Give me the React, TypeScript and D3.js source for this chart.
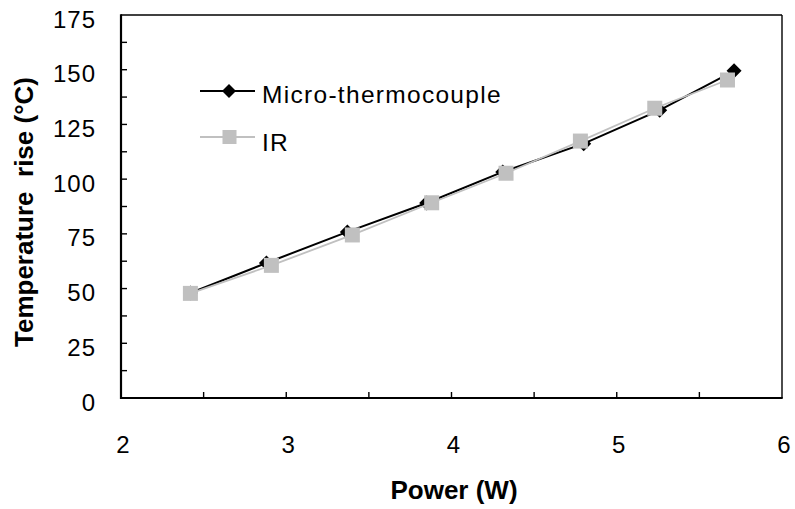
import React from "react";
import * as d3 from "d3";

const powerMicro = [2.42, 2.88, 3.37, 3.85, 4.31, 4.8, 5.26, 5.71];
const tempMicro = [48, 61.7, 75.9, 89.1, 103.3, 116.2, 131.5, 149.5];
const powerIR = [2.42, 2.91, 3.4, 3.88, 4.33, 4.78, 5.23, 5.67];
const tempIR = [47.8, 60.6, 74.5, 89.2, 102.7, 117.4, 132.4, 145.3];

const xTickLabels = [2, 3, 4, 5, 6];
const yTickLabels = [0, 25, 50, 75, 100, 125, 150, 175];
const xMinorTicks = [2.5, 3, 3.5, 4, 4.5, 5, 5.5];
const yMinorTicks = [12.5, 25, 37.5, 50, 62.5, 75, 87.5, 100, 112.5, 125, 137.5, 150, 162.5];

const seriesNames = ["Micro-thermocouple", "IR"];
const xTitle = "Power (W)";
const yTitle = "Temperature  rise (°C)";

const W = 795;
const H = 509;
const L = 121, R = 782, T = 15, B = 398;
const FONT = "'Liberation Sans', Arial, sans-serif";
const GRAY = "#c0c0c0";

export default function App() {
  const x = d3.scaleLinear().domain([2, 6]).range([L, R]);
  const y = d3.scaleLinear().domain([0, 175]).range([B, T]);
  const micro = powerMicro.map((p, i) => [p, tempMicro[i]] as [number, number]);
  const ir = powerIR.map((p, i) => [p, tempIR[i]] as [number, number]);
  const line = d3.line<[number, number]>().x((d) => x(d[0])).y((d) => y(d[1]));
  const diamond = (cx: number, cy: number, r: number) =>
    `M${cx},${cy - r}L${cx + r},${cy}L${cx},${cy + r}L${cx - r},${cy}Z`;

  return (
    <svg width={W} height={H} style={{ position: "absolute", left: 0, top: 0, background: "#fff" }}>
      <rect x={0} y={0} width={W} height={H} fill="#fff" />
      {/* frame */}
      <line x1={L} y1={T} x2={R} y2={T} stroke="#000" strokeWidth={1.4} />
      <line x1={R} y1={T} x2={R} y2={B} stroke="#000" strokeWidth={1.4} />
      {/* ticks */}
      {yMinorTicks.map((v) => (
        <line key={"yt" + v} x1={L} x2={L + 6} y1={y(v)} y2={y(v)} stroke="#000" strokeWidth={1.4} />
      ))}
      {xMinorTicks.map((v) => (
        <line key={"xt" + v} x1={x(v)} x2={x(v)} y1={B} y2={B - 6} stroke="#000" strokeWidth={1.4} />
      ))}
      <line x1={L} y1={T - 0.7} x2={L} y2={B + 1} stroke="#000" strokeWidth={2.2} />
      <line x1={L - 1} y1={B} x2={R + 0.7} y2={B} stroke="#000" strokeWidth={2.2} />
      {/* tick labels */}
      {yTickLabels.map((v) => (
        <text key={"yl" + v} x={96} y={y(v) + 12.5} textAnchor="end"
          fontFamily={FONT} fontSize={24} letterSpacing={1}>{v}</text>
      ))}
      {xTickLabels.map((v) => (
        <text key={"xl" + v} x={x(v) + 2} y={453} textAnchor="middle"
          fontFamily={FONT} fontSize={24}>{v}</text>
      ))}
      {/* axis titles */}
      <text x={454} y={499} textAnchor="middle" fontFamily={FONT} fontSize={26} fontWeight="bold">{xTitle}</text>
      <text transform={`translate(33,212) rotate(-90)`} textAnchor="middle" fontFamily={FONT}
        fontSize={26} fontWeight="bold" xmlSpace="preserve" style={{ whiteSpace: "pre" }}>{yTitle}</text>
      {/* series */}
      <path d={line(micro) || ""} fill="none" stroke="#000" strokeWidth={2} />
      {micro.map((d, i) => (
        <path key={"m" + i} d={diamond(x(d[0]), y(d[1]), 7.5)} fill="#000" />
      ))}
      <path d={line(ir) || ""} fill="none" stroke={GRAY} strokeWidth={1.8} />
      {ir.map((d, i) => (
        <rect key={"r" + i} x={x(d[0]) - 7.5} y={y(d[1]) - 7.5} width={15} height={15} fill={GRAY} />
      ))}
      {/* legend */}
      <line x1={200} x2={255} y1={91} y2={91} stroke="#000" strokeWidth={2} />
      <path d={diamond(229, 91, 7)} fill="#000" />
      <text x={262} y={102.5} fontFamily={FONT} fontSize={24.5} letterSpacing={1.3}>{seriesNames[0]}</text>
      <line x1={200} x2={255} y1={137} y2={137} stroke={GRAY} strokeWidth={1.8} />
      <rect x={222.5} y={130} width={14} height={14} fill={GRAY} />
      <text x={262} y={151} fontFamily={FONT} fontSize={24.5} letterSpacing={1.3}>{seriesNames[1]}</text>
    </svg>
  );
}
